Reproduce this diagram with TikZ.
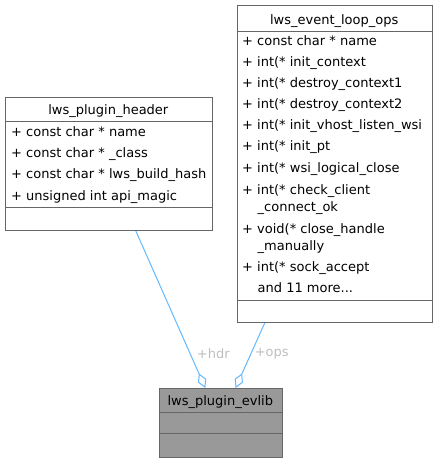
\documentclass[tikz,border=0pt]{standalone}
\usepackage{fontspec}
\setmainfont{DejaVu Sans}
\usetikzlibrary{arrows.meta}
\definecolor{grey40}{HTML}{666666}
\definecolor{grey60}{HTML}{999999}
\definecolor{steelblue1}{HTML}{63B8FF}
\definecolor{labelgrey}{HTML}{BEBEBE}

\begin{document}
\begin{tikzpicture}[x=1pt,y=-1pt,font=\fontsize{13}{15}\selectfont,
  classbox/.style={draw=grey40,line width=1pt,anchor=north west,inner sep=0pt},
  sepline/.style={draw=grey40,line width=1pt},
  member/.style={anchor=base west,inner sep=0pt},
  classname/.style={anchor=base,inner sep=0pt},
  relation/.style={draw=steelblue1,line width=1pt,{Diamond[open,length=16pt,width=9pt]}-},
  rolelabel/.style={text=labelgrey,inner sep=0pt}]
\useasboundingbox (0,0) rectangle (437,462);

% lws_plugin_header
\node[classbox,fill=white,minimum width=206.7,minimum height=133] (header) at (5,97) {};
\draw[sepline] (5,122) -- (211.7,122);
\draw[sepline] (5,207) -- (211.7,207);
\node[classname] (headertitle) at (108.3,115) {lws\_plugin\_header};
\node[member] (h1) at (11,136.6) {+ const char * name};
\node[member] (h2) at (11,157.6) {+ const char * \_class};
\node[member] (h3) at (11,178.6) {+ const char * lws\_build\_hash};
\node[member] (h4) at (11,200.6) {+ unsigned int api\_magic};

% lws_event_loop_ops
\node[classbox,fill=white,minimum width=195,minimum height=317] (ops) at (236.7,5) {};
\draw[sepline] (236.7,32) -- (431.7,32);
\draw[sepline] (236.7,300) -- (431.7,300);
\node[classname] (opstitle) at (334.2,25) {lws\_event\_loop\_ops};
\node[member] (o1) at (242,45.6) {+ const char * name};
\node[member] (o2) at (242,66.6) {+ int(* init\_context};
\node[member] (o3) at (242,87.6) {+ int(* destroy\_context1};
\node[member] (o4) at (242,108.6) {+ int(* destroy\_context2};
\node[member] (o5) at (242,129.6) {+ int(* init\_vhost\_listen\_wsi};
\node[member] (o6) at (242,150.6) {+ int(* init\_pt};
\node[member] (o7) at (242,172.6) {+ int(* wsi\_logical\_close};
\node[member] (o8) at (242,194.6) {+ int(* check\_client};
\node[member] (o8b) at (257.5,211) {\_connect\_ok};
\node[member] (o9) at (242,233.6) {+ void(* close\_handle};
\node[member] (o9b) at (257.5,250) {\_manually};
\node[member] (o10) at (242,271.6) {+ int(* sock\_accept};
\node[member] (o11) at (257.5,292.6) {and 11 more...};

% lws_plugin_evlib
\node[classbox,fill=grey60,minimum width=122.7,minimum height=69] (evlib) at (159,388) {};
\draw[sepline] (159,412) -- (281.7,412);
\draw[sepline] (159,433) -- (281.7,433);
\node[classname] (evlibtitle) at (220.3,405) {lws\_plugin\_evlib};

\draw[relation] ([xshift=-15.5pt]evlib.north) -- ([xshift=27pt]header.south);
\draw[relation] ([xshift=14.7pt]evlib.north) -- ([xshift=-70pt]ops.south);
\node[rolelabel] (hdrlabel) at (213.3,354) {+hdr};
\node[rolelabel] (opslabel) at (271.7,354) {+ops};
\end{tikzpicture}
\end{document}
